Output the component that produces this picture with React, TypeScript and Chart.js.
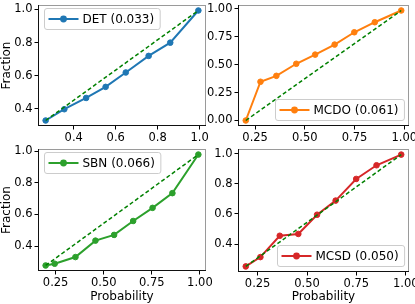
import React, { useEffect, useRef } from "react";
import { Chart, registerables } from "chart.js";
Chart.register(...registerables);

// ---- data ----
const detX = [0.266, 0.355, 0.459, 0.552, 0.648, 0.757, 0.86, 0.994];
const detY = [0.33, 0.398, 0.466, 0.533, 0.62, 0.72, 0.8, 0.994];
const mcdoX = [0.203, 0.277, 0.357, 0.457, 0.552, 0.65, 0.749, 0.852, 0.985];
const mcdoY = [0.0, 0.347, 0.4, 0.508, 0.59, 0.68, 0.79, 0.88, 0.985];
const sbnX = [0.198, 0.245, 0.353, 0.457, 0.554, 0.653, 0.754, 0.857, 0.992];
const sbnY = [0.278, 0.289, 0.331, 0.435, 0.471, 0.559, 0.642, 0.735, 0.979];
const mcsdX = [0.19, 0.264, 0.362, 0.456, 0.551, 0.645, 0.749, 0.852, 0.977];
const mcsdY = [0.251, 0.313, 0.455, 0.467, 0.595, 0.689, 0.833, 0.924, 0.995];

const seriesNames = ["DET", "MCDO", "SBN", "MCSD"];
const seriesScores = ["0.033", "0.061", "0.066", "0.050"];

const xTicksDET = [0.4, 0.6, 0.8, 1.0];
const xTicksOther = [0.25, 0.5, 0.75, 1.0];
const yTicksFraction = [0.4, 0.6, 0.8, 1.0];
const yTicksMCDO = [0, 0.25, 0.5, 0.75, 1.0];

const FONT = '"DejaVu Sans", sans-serif';
const W = 415;
const H = 304;

type Panel = {
  xs: number[];
  ys: number[];
  name: string;
  score: string;
  color: string;
  box: { l: number; r: number; t: number; b: number };
  xTicks: number[];
  xDec: number;
  yTicks: number[];
  yDec: number;
  yTitle: boolean;
  xTitle: boolean;
  corner: "ul" | "lr";
};

const panels: Panel[] = [
  {
    xs: detX, ys: detY, name: seriesNames[0], score: seriesScores[0], color: "#1f77b4",
    box: { l: 38, r: 206, t: 3, b: 126 }, xTicks: xTicksDET, xDec: 1, yTicks: yTicksFraction, yDec: 1,
    yTitle: true, xTitle: false, corner: "ul",
  },
  {
    xs: mcdoX, ys: mcdoY, name: seriesNames[1], score: seriesScores[1], color: "#ff7f0e",
    box: { l: 238, r: 409, t: 3, b: 126 }, xTicks: xTicksOther, xDec: 2, yTicks: yTicksMCDO, yDec: 2,
    yTitle: false, xTitle: false, corner: "lr",
  },
  {
    xs: sbnX, ys: sbnY, name: seriesNames[2], score: seriesScores[2], color: "#2ca02c",
    box: { l: 38, r: 206, t: 149, b: 271 }, xTicks: xTicksOther, xDec: 2, yTicks: yTicksFraction, yDec: 1,
    yTitle: true, xTitle: true, corner: "ul",
  },
  {
    xs: mcsdX, ys: mcsdY, name: seriesNames[3], score: seriesScores[3], color: "#d62728",
    box: { l: 238, r: 409, t: 149, b: 272 }, xTicks: xTicksOther, xDec: 2, yTicks: yTicksFraction, yDec: 1,
    yTitle: false, xTitle: true, corner: "lr",
  },
];

const framePlugin = {
  id: "frame",
  afterDatasetsDraw(chart: any) {
    const { ctx, chartArea: a } = chart;
    ctx.save();
    ctx.lineWidth = 1;
    ctx.strokeStyle = "#9a9a9a";
    ctx.beginPath();
    ctx.moveTo(a.left, a.top + 0.5);
    ctx.lineTo(a.right, a.top + 0.5);
    ctx.moveTo(a.right - 0.5, a.top);
    ctx.lineTo(a.right - 0.5, a.bottom);
    ctx.stroke();
    ctx.strokeStyle = "#111";
    ctx.beginPath();
    ctx.moveTo(a.left + 0.5, a.top);
    ctx.lineTo(a.left + 0.5, a.bottom);
    ctx.moveTo(a.left, a.bottom - 0.5);
    ctx.lineTo(a.right, a.bottom - 0.5);
    ctx.stroke();
    ctx.restore();
  },
};

const legendPlugin = {
  id: "insideLegend",
  afterDraw(chart: any, _args: any, opts: any) {
    const { ctx, chartArea: a } = chart;
    ctx.save();
    ctx.font = `12px ${FONT}`;
    const tw = ctx.measureText(opts.text).width;
    const h = 21, padL = 4, lineLen = 30, gap = 4, padR = 6;
    const w = padL + lineLen + gap + tw + padR;
    let x: number, y: number;
    if (opts.corner === "ul") {
      x = a.left + 6;
      y = a.top + 3;
    } else {
      x = a.right - 5 - w;
      y = a.bottom - 6 - h;
    }
    x = Math.round(x) + 0.5;
    y = Math.round(y) + 0.5;
    ctx.beginPath();
    const r = 2.5;
    ctx.moveTo(x + r, y);
    ctx.lineTo(x + w - r, y);
    ctx.arcTo(x + w, y, x + w, y + r, r);
    ctx.lineTo(x + w, y + h - r);
    ctx.arcTo(x + w, y + h, x + w - r, y + h, r);
    ctx.lineTo(x + r, y + h);
    ctx.arcTo(x, y + h, x, y + h - r, r);
    ctx.lineTo(x, y + r);
    ctx.arcTo(x, y, x + r, y, r);
    ctx.closePath();
    ctx.fillStyle = "rgba(255,255,255,0.8)";
    ctx.fill();
    ctx.strokeStyle = "#cccccc";
    ctx.lineWidth = 1;
    ctx.stroke();
    const cy = y + h / 2;
    ctx.strokeStyle = opts.color;
    ctx.lineWidth = 2;
    ctx.beginPath();
    ctx.moveTo(x + padL, cy);
    ctx.lineTo(x + padL + lineLen, cy);
    ctx.stroke();
    ctx.fillStyle = opts.color;
    ctx.beginPath();
    ctx.arc(x + padL + lineLen / 2, cy, 3.4, 0, Math.PI * 2);
    ctx.fill();
    ctx.fillStyle = "#000";
    ctx.textBaseline = "middle";
    ctx.textAlign = "left";
    ctx.fillText(opts.text, x + padL + lineLen + gap, cy + 0.5);
    ctx.restore();
  },
};

function range(vals: number[]) {
  const mn = Math.min(...vals);
  const mx = Math.max(...vals);
  const m = (mx - mn) * 0.05;
  return [mn - m, mx + m];
}

function PanelChart({ p }: { p: Panel }) {
  const ref = useRef<HTMLCanvasElement>(null);
  useEffect(() => {
    if (!ref.current) return;
    const [xmin, xmax] = range(p.xs);
    const [ymin, ymax] = range(p.ys);
    const xAxisH = p.xTitle ? H - p.box.b : 20;
    const yAxisW = p.box.l;
    const n = p.xs.length;
    const tickFont = { family: FONT, size: 11.5 };
    const titleFont = { family: FONT, size: 12 };
    const chart = new Chart(ref.current, {
      type: "scatter",
      data: {
        datasets: [
          {
            data: [
              { x: p.xs[0], y: p.ys[0] },
              { x: p.xs[n - 1], y: p.ys[n - 1] },
            ],
            showLine: true,
            borderColor: "#008000",
            borderWidth: 1.5,
            borderDash: [4, 2.5],
            pointRadius: 0,
            order: 0,
          },
          {
            data: p.xs.map((x, i) => ({ x, y: p.ys[i] })),
            showLine: true,
            borderColor: p.color,
            backgroundColor: p.color,
            borderWidth: 2,
            pointRadius: 2.8,
            pointBorderWidth: 1,
            pointBackgroundColor: p.color,
            pointBorderColor: p.color,
            order: 1,
          },
        ],
      },
      options: {
        animation: false,
        responsive: false,
        devicePixelRatio: 1,
        layout: {
          padding: {
            left: 0,
            top: p.box.t,
            right: W - p.box.r,
            bottom: H - p.box.b - xAxisH,
          },
        },
        plugins: {
          legend: { display: false },
          tooltip: { enabled: false },
          insideLegend: { corner: p.corner, text: `${p.name} (${p.score})`, color: p.color },
        } as any,
        scales: {
          x: {
            type: "linear",
            min: xmin,
            max: xmax,
            afterBuildTicks: (s: any) => {
              s.ticks = p.xTicks.map((v) => ({ value: v }));
            },
            afterFit: (s: any) => {
              s.height = xAxisH;
              s.paddingLeft = 0;
              s.paddingRight = 0;
              s.paddingTop = 0;
              s.paddingBottom = 0;
            },
            ticks: {
              callback: (v: any) => Number(v).toFixed(p.xDec),
              font: tickFont,
              color: "#000",
              padding: 2,
              maxRotation: 0,
              autoSkip: false,
            },
            grid: {
              drawOnChartArea: false,
              drawTicks: true,
              tickLength: 3.5,
              tickColor: "#000",
              color: "#000",
            },
            border: { display: false },
            title: {
              display: p.xTitle,
              text: "Probability",
              font: titleFont,
              color: "#000",
              padding: { top: 0, bottom: 0 },
            },
          },
          y: {
            type: "linear",
            min: ymin,
            max: ymax,
            afterBuildTicks: (s: any) => {
              s.ticks = p.yTicks.map((v) => ({ value: v }));
            },
            afterFit: (s: any) => {
              s.width = yAxisW;
              s.paddingLeft = 0;
              s.paddingRight = 0;
              s.paddingTop = 0;
              s.paddingBottom = 0;
            },
            ticks: {
              callback: (v: any) => Number(v).toFixed(p.yDec),
              font: tickFont,
              color: "#000",
              padding: 2,
              autoSkip: false,
            },
            grid: {
              drawOnChartArea: false,
              drawTicks: true,
              tickLength: 3.5,
              tickColor: "#000",
              color: "#000",
            },
            border: { display: false },
            title: {
              display: p.yTitle,
              text: "Fraction",
              font: titleFont,
              color: "#000",
              padding: { top: 0, bottom: 0 },
            },
          },
        },
      },
      plugins: [framePlugin, legendPlugin],
    } as any);
    return () => chart.destroy();
  }, [p]);
  return (
    <canvas
      ref={ref}
      width={W}
      height={H}
      style={{ position: "absolute", left: 0, top: 0, width: W, height: H }}
    />
  );
}

export default function App() {
  return (
    <div style={{ position: "fixed", left: 0, top: 0, width: W, height: H, background: "#fff" }}>
      {panels.map((p, i) => (
        <PanelChart key={i} p={p} />
      ))}
    </div>
  );
}
